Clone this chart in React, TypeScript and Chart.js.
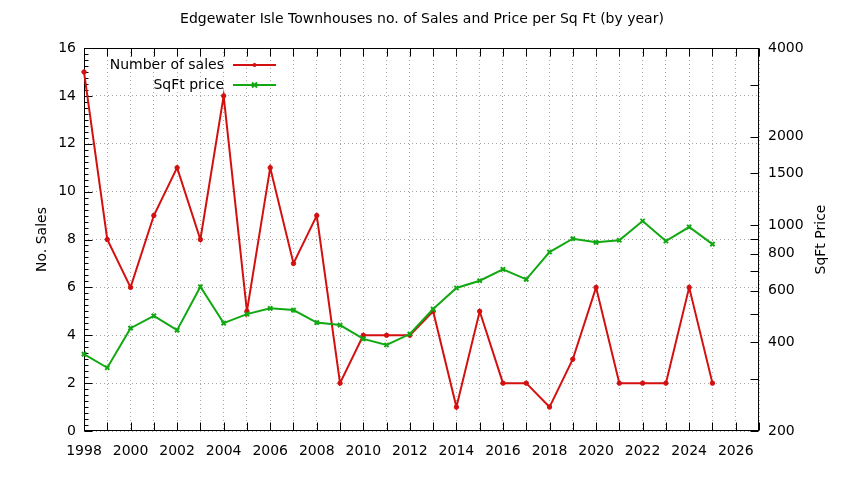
import React, { useEffect, useRef } from "react";
import { Chart, registerables } from "chart.js";

Chart.register(...registerables);

const chartTitle = "Edgewater Isle Townhouses no. of Sales and Price per Sq Ft (by year)";
const years = [1998, 1999, 2000, 2001, 2002, 2003, 2004, 2005, 2006, 2007, 2008, 2009, 2010, 2011, 2012, 2013, 2014, 2015, 2016, 2017, 2018, 2019, 2020, 2021, 2022, 2023, 2024, 2025];
const salesCounts = [15, 8, 6, 9, 11, 8, 14, 5, 11, 7, 9, 2, 4, 4, 4, 5, 1, 5, 2, 2, 1, 3, 6, 2, 2, 2, 6, 2];
const sqftPrices = [365, 328, 447, 492, 440, 618, 465, 499, 522, 515, 467, 458, 411, 392, 427, 519, 612, 648, 708, 655, 811, 900, 875, 889, 1034, 884, 986, 863];
const salesLabel = "Number of sales";
const priceLabel = "SqFt price";
const leftAxisTitle = "No. Sales";
const rightAxisTitle = "SqFt Price";
const xMin = 1998;
const xMax = 2027;
const salesMin = 0;
const salesMax = 16;
const salesStep = 2;
const salesMinorStep = 0.25;
const priceMin = 200;
const priceMax = 4000;
const priceTickValues = [200, 300, 400, 500, 600, 700, 800, 900, 1000, 1500, 2000, 3000, 4000];
const priceTickLabels = [200, 400, 600, 800, 1000, 1500, 2000, 4000];

const FONT = "'DejaVu Sans', sans-serif";
const RED = "#d40f0f";
const GREEN = "#12a812";
const GRID = "#a8a8a8";

function drawMarker(ctx: CanvasRenderingContext2D, style: string, x: number, y: number, color: string) {
  ctx.save();
  ctx.strokeStyle = color;
  ctx.fillStyle = color;
  if (style === "circle") {
    ctx.beginPath();
    ctx.arc(x, y, 2, 0, Math.PI * 2);
    ctx.fill();
  } else {
    ctx.lineWidth = 2;
    const r = 2.5;
    ctx.beginPath();
    ctx.moveTo(x - r, y - r);
    ctx.lineTo(x + r, y + r);
    ctx.moveTo(x + r, y - r);
    ctx.lineTo(x - r, y + r);
    ctx.stroke();
  }
  ctx.restore();
}

const framePlugin = {
  id: "gnuFrame",
  beforeDatasetsDraw(chart: any) {
    const { ctx, chartArea: a, scales } = chart;
    const xs = scales.x;
    const ys = scales.y;
    const y2 = scales.y2;
    const L = Math.round(a.left) + 0.5;
    const R = Math.round(a.right) - 0.5;
    const T = Math.round(a.top) + 0.5;
    const B = Math.round(a.bottom) - 0.5;
    ctx.save();
    ctx.strokeStyle = "#000";
    ctx.lineWidth = 1;
    ctx.beginPath();
    for (let yr = xMin; yr <= xMax; yr++) {
      const px = Math.round(xs.getPixelForValue(yr)) + 0.5;
      ctx.moveTo(px, B);
      ctx.lineTo(px, B - 8);
      ctx.moveTo(px, T);
      ctx.lineTo(px, T + 8);
    }
    for (let v = salesMin; v <= salesMax + 1e-9; v += salesMinorStep) {
      const py = Math.round(ys.getPixelForValue(v)) + 0.5;
      const len = Math.abs(v % salesStep) < 1e-9 ? 8 : 4;
      ctx.moveTo(L, py);
      ctx.lineTo(L + len, py);
    }
    for (const v of priceTickValues) {
      const py = Math.round(y2.getPixelForValue(v)) + 0.5;
      ctx.moveTo(R, py);
      ctx.lineTo(R - 8, py);
    }
    ctx.stroke();
    ctx.strokeRect(L, T, R - L, B - T);

    ctx.fillStyle = "#000";
    ctx.font = `14px ${FONT}`;
    ctx.textAlign = "center";
    ctx.textBaseline = "middle";
    ctx.translate(821.5, (a.top + a.bottom) / 2);
    ctx.rotate(-Math.PI / 2);
    ctx.fillText(rightAxisTitle, 0, 0);
    ctx.restore();
  },
  afterDatasetsDraw(chart: any) {
    const { ctx, chartArea: a } = chart;
    const entries = [
      { ds: chart.data.datasets[0], style: "circle" },
      { ds: chart.data.datasets[1], style: "cross" },
    ];
    ctx.save();
    ctx.font = `14px ${FONT}`;
    ctx.textAlign = "right";
    ctx.textBaseline = "middle";
    entries.forEach((e, i) => {
      const ty = a.top + 17 + i * 20;
      ctx.fillStyle = "#000";
      ctx.fillText(e.ds.label, a.left + 140, ty);
      ctx.strokeStyle = e.ds.borderColor;
      ctx.lineWidth = 2;
      ctx.beginPath();
      ctx.moveTo(a.left + 149, ty);
      ctx.lineTo(a.left + 192, ty);
      ctx.stroke();
      drawMarker(ctx, e.style, a.left + 170.5, ty, e.ds.borderColor);
    });
    ctx.restore();
  },
};

export default function App() {
  const ref = useRef<HTMLCanvasElement | null>(null);
  useEffect(() => {
    if (!ref.current) return;
    const chart = new Chart(ref.current, {
      type: "line",
      data: {
        datasets: [
          {
            label: salesLabel,
            data: years.map((yr, i) => ({ x: yr, y: salesCounts[i] })),
            borderColor: RED,
            backgroundColor: RED,
            borderWidth: 2,
            pointStyle: "circle",
            pointRadius: 2.2,
            pointBorderWidth: 1,
            yAxisID: "y",
            order: 1,
            clip: false as any,
            tension: 0,
          },
          {
            label: priceLabel,
            data: years.map((yr, i) => ({ x: yr, y: sqftPrices[i] })),
            borderColor: GREEN,
            backgroundColor: GREEN,
            borderWidth: 2,
            pointStyle: "crossRot",
            pointRadius: 3,
            pointBorderWidth: 2,
            yAxisID: "y2",
            order: 0,
            clip: false as any,
            tension: 0,
          },
        ],
      },
      options: {
        animation: false,
        responsive: true,
        maintainAspectRatio: false,
        layout: { padding: 0 },
        plugins: {
          legend: { display: false },
          tooltip: { enabled: false },
          title: {
            display: true,
            text: chartTitle,
            color: "#000",
            font: { family: FONT, size: 14, weight: "normal" },
            padding: { top: 10.5, bottom: 20.7 },
          },
        },
        scales: {
          x: {
            type: "linear",
            min: xMin,
            max: xMax,
            afterFit: (s: any) => { s.height = 49; },
            ticks: {
              stepSize: 1,
              autoSkip: false,
              maxRotation: 0,
              padding: 12,
              color: "#000",
              font: { family: FONT, size: 14 },
              callback: (v: any) => (Number(v) % 2 === 0 && Number(v) <= 2026 ? String(v) : ""),
            },
            grid: { color: GRID, drawTicks: false, lineWidth: 1 },
            border: { display: false, dash: [1, 3] },
          },
          y: {
            type: "linear",
            position: "left",
            min: salesMin,
            max: salesMax,
            afterFit: (s: any) => { s.width = 84; },
            ticks: {
              stepSize: salesStep,
              padding: 8,
              color: "#000",
              font: { family: FONT, size: 14 },
            },
            grid: { color: GRID, drawTicks: false, lineWidth: 1 },
            border: { display: false, dash: [1, 3] },
            title: {
              display: true,
              text: leftAxisTitle,
              color: "#000",
              font: { family: FONT, size: 14 },
              padding: { top: 33.6, bottom: 0 },
            },
          },
          y2: {
            type: "logarithmic",
            position: "right",
            min: priceMin,
            max: priceMax,
            afterFit: (s: any) => { s.width = 85; },
            afterBuildTicks: (s: any) => { s.ticks = priceTickValues.map((v) => ({ value: v })); },
            ticks: {
              autoSkip: false,
              padding: 9,
              color: "#000",
              font: { family: FONT, size: 14 },
              callback: (v: any) => (priceTickLabels.includes(Number(v)) ? String(v) : ""),
            },
            grid: { display: false, drawTicks: false },
            border: { display: false },
          },
        },
      },
      plugins: [framePlugin],
    } as any);
    return () => chart.destroy();
  }, []);
  return (
    <div style={{ position: "absolute", left: 0, top: 0, width: 844, height: 480, background: "#fff" }}>
      <canvas ref={ref} />
    </div>
  );
}
